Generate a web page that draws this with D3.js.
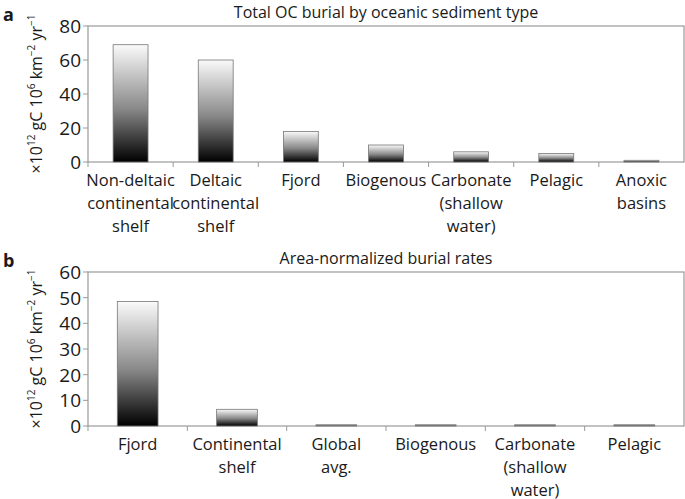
<!DOCTYPE html>
<html><head><meta charset="utf-8">
<script src="https://cdn.jsdelivr.net/npm/d3@7"></script>
<style>body{margin:0;background:#fff}text{font-family:"Open Sans",sans-serif;fill:#1a1a1a}</style>
</head><body><div id="chart"></div>
<script>
var catsA = ["Non-deltaic|continental|shelf", "Deltaic|continental|shelf", "Fjord", "Biogenous", "Carbonate|(shallow|water)", "Pelagic", "Anoxic|basins"];
var valsA = [69, 60, 18, 10, 6, 5, 1];
var ticksA = [0, 20, 40, 60, 80];
var catsB = ["Fjord", "Continental|shelf", "Global|avg.", "Biogenous", "Carbonate|(shallow|water)", "Pelagic"];
var valsB = [48.5, 6.5, 0.5, 0.5, 0.5, 0.5];
var ticksB = [0, 10, 20, 30, 40, 50, 60];

var width = 685, height = 499;
var svg = d3.select("#chart").append("svg").attr("width", width).attr("height", height);

var grad = svg.append("defs").append("linearGradient")
    .attr("id", "g").attr("x1", 0).attr("y1", 0).attr("x2", 0).attr("y2", 1);
grad.append("stop").attr("offset", "0%").attr("stop-color", "#fafafa");
grad.append("stop").attr("offset", "55%").attr("stop-color", "#888");
grad.append("stop").attr("offset", "100%").attr("stop-color", "#000");

function panel(cats, vals, ticks, top, bottom, barFrac, letter, title) {
    var left = 88, right = 684;
    var x = d3.scaleBand().domain(cats).range([left, right]);
    var y = d3.scaleLinear().domain([0, ticks[ticks.length - 1]]).range([bottom, top]);
    var g = svg.append("g");

    g.append("rect").attr("x", left).attr("y", top).attr("width", right - left).attr("height", bottom - top)
        .attr("fill", "none").attr("stroke", "#999").attr("stroke-width", 1.2);

    var bw = x.bandwidth() * barFrac;
    g.selectAll(".bar").data(vals).enter().append("rect")
        .attr("x", function (d, i) { return x(cats[i]) + (x.bandwidth() - bw) / 2; })
        .attr("y", function (d) { return y(d); })
        .attr("width", bw)
        .attr("height", function (d) { return Math.max(1, bottom - y(d)); })
        .attr("fill", "url(#g)").attr("stroke", "#777").attr("stroke-width", 0.8);

    ticks.forEach(function (t) {
        g.append("line").attr("x1", left - 5).attr("x2", left).attr("y1", y(t)).attr("y2", y(t)).attr("stroke", "#999");
        g.append("text").attr("x", left - 7).attr("y", y(t)).attr("dy", "0.36em").attr("text-anchor", "end")
            .attr("font-size", 19).text(t);
    });
    cats.forEach(function (c, i) {
        g.append("line").attr("x1", x(c)).attr("x2", x(c)).attr("y1", bottom).attr("y2", bottom + 5).attr("stroke", "#999");
        var lines = c.split("|");
        var t = g.append("text").attr("text-anchor", "middle").attr("font-size", 16.5);
        lines.forEach(function (l, j) {
            t.append("tspan").attr("x", x(c) + x.bandwidth() / 2).attr("y", bottom + 24 + j * 23).text(l);
        });
    });

    g.append("text").attr("x", (left + right) / 2).attr("y", top - 8).attr("text-anchor", "middle")
        .attr("font-size", 16).text(title);
    g.append("text").attr("x", 3).attr("y", top - 5).attr("font-size", 18).attr("font-weight", "bold").text(letter);

    var yl = g.append("text").attr("transform", "translate(42," + ((top + bottom) / 2) + ") rotate(-90)")
        .attr("text-anchor", "middle").attr("font-size", 16);
    yl.append("tspan").text("×10");
    yl.append("tspan").attr("font-size", 10).attr("dy", -7).text("12");
    yl.append("tspan").attr("dy", 7).text(" gC 10");
    yl.append("tspan").attr("font-size", 10).attr("dy", -7).text("6");
    yl.append("tspan").attr("dy", 7).text(" km");
    yl.append("tspan").attr("font-size", 10).attr("dy", -7).text("−2");
    yl.append("tspan").attr("dy", 7).text(" yr");
    yl.append("tspan").attr("font-size", 10).attr("dy", -7).text("−1");
}

panel(catsA, valsA, ticksA, 26, 162, 0.41, "a", "Total OC burial by oceanic sediment type");
panel(catsB, valsB, ticksB, 272, 426, 0.41, "b", "Area-normalized burial rates");
</script></body></html>
